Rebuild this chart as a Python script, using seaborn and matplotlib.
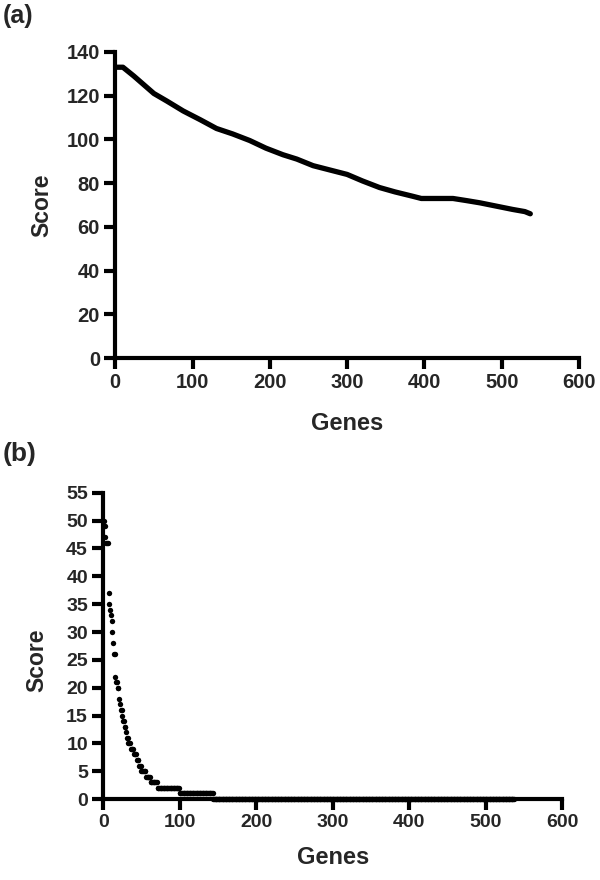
import numpy as np
import pandas as pd
import matplotlib
matplotlib.use("Agg")
import matplotlib.pyplot as plt
import seaborn as sns

# ---------------- data ----------------
# Panel (a): ranked genes vs score
genes_a = [1, 10, 24, 37, 50, 67, 88, 110, 131, 152, 174, 195, 217, 235, 256,
           278, 300, 320, 342, 362, 385, 396, 437, 455, 472, 493, 514, 530, 537]
score_a = [133, 133, 129, 125, 121, 117.5, 113, 109, 105, 102.5, 99.5, 96, 93, 91, 88,
           86, 84, 81, 78, 76, 74, 73, 73, 72, 71, 69.5, 68, 67, 66]

# Panel (b): score levels and number of genes at each level (in rank order)
score_levels = [50, 49, 47, 46, 37, 35, 34, 33, 32, 30, 28, 26, 22, 21, 20, 18,
                17, 16, 15, 14, 13, 12, 11, 10, 9, 8, 7, 6, 5, 4, 3, 2, 1, 0]
gene_counts = [1, 1, 1, 3, 1, 1, 1, 1, 1, 1, 1, 2, 1, 2, 2, 1,
               1, 2, 1, 2, 2, 1, 2, 3, 4, 4, 3, 3, 6, 6, 9, 29, 44, 394]

x_ticks = [0, 100, 200, 300, 400, 500, 600]
y_ticks_a = [0, 20, 40, 60, 80, 100, 120, 140]
y_ticks_b = [0, 5, 10, 15, 20, 25, 30, 35, 40, 45, 50, 55]

df_a = pd.DataFrame({"Genes": genes_a, "Score": score_a})
score_b = np.repeat(score_levels, gene_counts)
df_b = pd.DataFrame({"Genes": np.arange(1, len(score_b) + 1), "Score": score_b})

# ---------------- style ----------------
sns.set_style("ticks")
plt.rcParams["font.family"] = ["Liberation Sans", "DejaVu Sans"]
plt.rcParams["font.weight"] = "bold"
plt.rcParams["axes.labelweight"] = "bold"

fig = plt.figure(figsize=(6.0, 8.8), dpi=100)
ax_a = fig.add_axes([0.192, 0.593, 0.773, 0.348])
ax_b = fig.add_axes([0.172, 0.092, 0.765, 0.348])

def style_axis(ax, yticks, tick_fs):
    sns.despine(ax=ax)
    for s in ("left", "bottom"):
        ax.spines[s].set_linewidth(3.0)
        ax.spines[s].set_color("black")
    ax.set_xlim(0, 600)
    ax.set_ylim(yticks[0], yticks[-1])
    ax.set_xticks(x_ticks)
    ax.set_yticks(yticks)
    ax.tick_params(axis="both", direction="out", length=8, width=3,
                   color="black", labelsize=tick_fs, pad=3)
    for lab in ax.get_xticklabels() + ax.get_yticklabels():
        lab.set_fontweight("bold")

# Panel (a)
sns.lineplot(data=df_a, x="Genes", y="Score", ax=ax_a, color="black",
             linewidth=3.8, solid_capstyle="round", solid_joinstyle="round")
style_axis(ax_a, y_ticks_a, 14.5)
ax_a.set_xlabel("Genes", fontsize=17, fontweight="bold")
ax_a.set_ylabel("Score", fontsize=16.5, fontweight="bold")
ax_a.xaxis.set_label_coords(0.5, -0.176)
ax_a.yaxis.set_label_coords(-0.134, 0.5)

# Panel (b)
sns.scatterplot(data=df_b, x="Genes", y="Score", ax=ax_b, color="black",
                s=15, linewidth=0, clip_on=False, zorder=3)
style_axis(ax_b, y_ticks_b, 14)
ax_b.set_xlabel("Genes", fontsize=17, fontweight="bold")
ax_b.set_ylabel("Score", fontsize=16.5, fontweight="bold")
ax_b.xaxis.set_label_coords(0.5, -0.154)
ax_b.yaxis.set_label_coords(-0.12, 0.454)

fig.text(0.005, 0.995, "(a)", fontsize=18, fontweight="bold", va="top", ha="left")
fig.text(0.005, 0.498, "(b)", fontsize=19, fontweight="bold", va="top", ha="left")

fig.savefig("out.png", dpi=100)
